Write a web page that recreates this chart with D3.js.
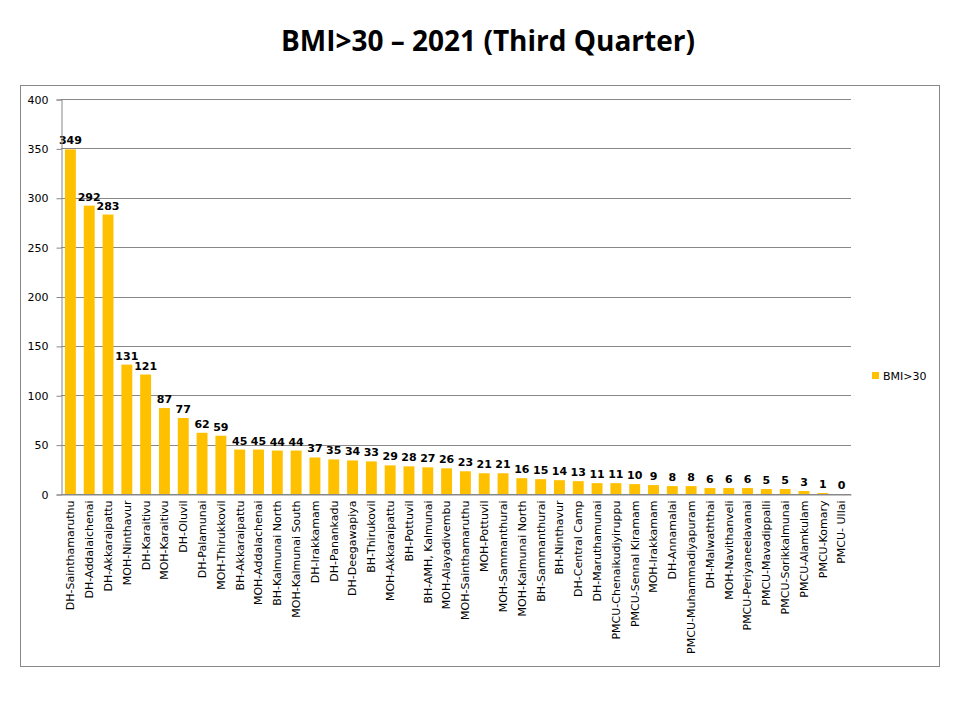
<!DOCTYPE html>
<html><head><meta charset="utf-8">
<script src="https://cdn.jsdelivr.net/npm/d3@7"></script>
<style>body{margin:0;background:#fff}</style>
</head><body>
<script>
const categories = ["DH-Sainthamaruthu","DH-Addalaichenai","DH-Akkaraipattu","MOH-Ninthavur","DH-Karaitivu","MOH-Karaitivu","DH-Oluvil","DH-Palamunai","MOH-Thirukkovil","BH-Akkaraipattu","MOH-Addalachenai","BH-Kalmunai North","MOH-Kalmunai South","DH-Irakkamam","DH-Panankadu","DH-Deegawapiya","BH-Thirukovil","MOH-Akkaraipattu","BH-Pottuvil","BH-AMH, Kalmunai","MOH-Alayadivembu","MOH-Sainthamaruthu","MOH-Pottuvil","MOH-Sammanthurai","MOH-Kalmunai North","BH-Sammanthurai","BH-Ninthavur","DH-Central Camp","DH-Maruthamunai","PMCU-Chenaikudiyiruppu","PMCU-Sennal Kiramam","MOH-Irakkamam","DH-Annamalai","PMCU-Muhammadiyapuram","DH-Malwaththai","MOH-Navithanveli","PMCU-Periyaneelavanai","PMCU-Mavadippalli","PMCU-Sorikkalmunai","PMCU-Alamkulam","PMCU-Komary","PMCU- Ullai"];
const values = [349,292,283,131,121,87,77,62,59,45,45,44,44,37,35,34,33,29,28,27,26,23,21,21,16,15,14,13,11,11,10,9,8,8,6,6,6,5,5,3,1,0];
const yTicks = [0,50,100,150,200,250,300,350,400];
const seriesName = "BMI>30";
const title = "BMI>30 \u2013 2021 (Third Quarter)";

(function(){
const W = 977, H = 718;
const svg = d3.select("body").append("svg").attr("width", W).attr("height", H);
const font = "DejaVu Sans, Verdana, sans-serif";

svg.append("rect").attr("x",20.5).attr("y",85.5).attr("width",919).attr("height",581)
  .attr("fill","none").attr("stroke","#888").attr("stroke-width",1);

svg.append("text").attr("x",488).attr("y",51).attr("text-anchor","middle")
  .attr("font-family","Open Sans, Liberation Sans, sans-serif").attr("font-weight","bold")
  .attr("font-size",28).attr("fill","#000").text(title);

const pL = 61, pR = 851, pT = 99, pB = 494;
const x = d3.scaleBand().domain(categories).range([pL,pR]).paddingInner(0.42).paddingOuter(0.21);
const y = d3.scaleLinear().domain([0,400]).range([pB,pT]);

const g = svg.append("g");
g.selectAll("line.grid").data(yTicks).join("line")
  .attr("x1",pL).attr("x2",pR)
  .attr("y1",d=>Math.round(y(d))+0.5).attr("y2",d=>Math.round(y(d))+0.5)
  .attr("stroke","#888").attr("stroke-width",1);

const yAxis = d3.axisLeft(y).tickValues(yTicks).tickSize(5).tickPadding(8);
const ya = svg.append("g").attr("transform",`translate(${pL+0.5},0.5)`).call(yAxis);
ya.select(".domain").attr("stroke","#888");
ya.selectAll(".tick line").attr("stroke","#888");
ya.selectAll("text").attr("font-family",font).attr("font-size",11).attr("fill","#000");

g.selectAll("rect.bar").data(values).join("rect")
  .attr("x",(d,i)=>x(categories[i])).attr("width",x.bandwidth())
  .attr("y",d=>y(d)).attr("height",d=>pB-y(d)).attr("fill","#FFC000");

const xAxis = d3.axisBottom(x).tickSize(0).tickPadding(0);
const xa = svg.append("g").attr("transform",`translate(0,${pB+0.5})`).call(xAxis);
xa.select(".domain").attr("stroke","#888");
xa.selectAll("text").attr("font-family",font).attr("font-size",11).attr("fill","#000")
  .attr("transform","rotate(-90)").attr("text-anchor","end")
  .attr("x",-6).attr("y",0).attr("dy","0.35em");

g.selectAll("text.val").data(values).join("text")
  .attr("x",(d,i)=>x(categories[i])+x.bandwidth()/2).attr("y",d=>y(d)-5)
  .attr("text-anchor","middle").attr("font-family",font).attr("font-weight","bold")
  .attr("font-size",11).attr("fill","#000").text(d=>d);

svg.append("rect").attr("x",872).attr("y",372).attr("width",7).attr("height",7).attr("fill","#FFC000");
svg.append("text").attr("x",883).attr("y",380).attr("font-family",font).attr("font-size",11)
  .attr("fill","#000").text(seriesName);
})();
</script>
</body></html>
